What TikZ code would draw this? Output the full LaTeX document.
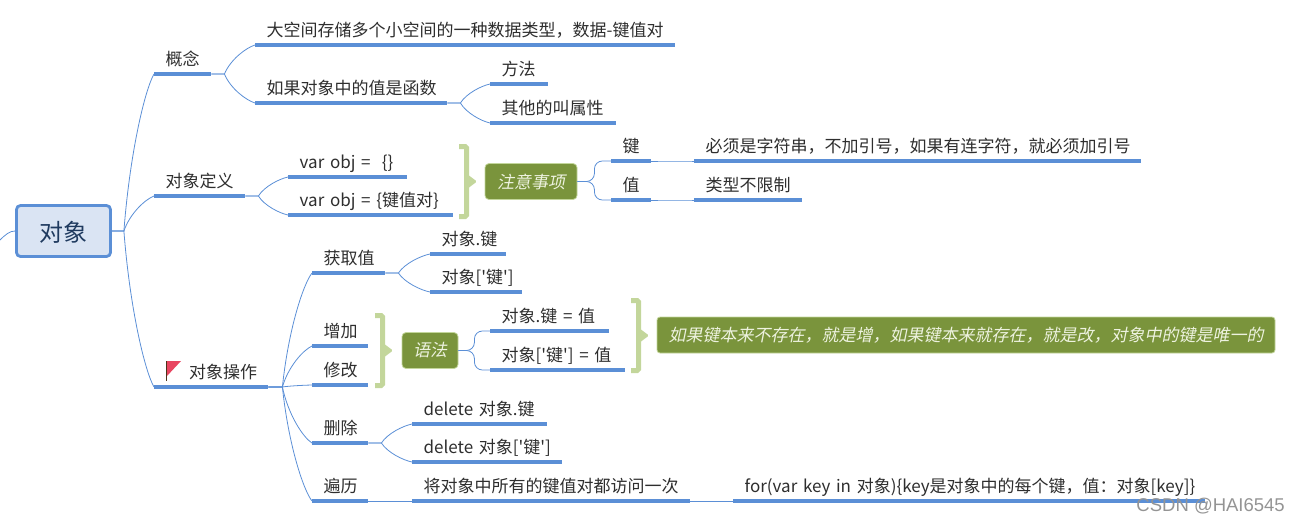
\documentclass[tikz,border=0pt]{standalone}
\usepackage{fontspec}
\usepackage{xcolor}
\newfontfamily\cnfont{Noto Sans CJK SC}
\newfontfamily\cnslant[FakeSlant=0.2]{Noto Sans CJK SC}
\newfontfamily\markfont{Liberation Sans}
\usetikzlibrary{calc}
\definecolor{linkblue}{HTML}{5B8FD6}
\definecolor{rootfill}{HTML}{DAE4F3}
\definecolor{rootink}{HTML}{1F3A5F}
\definecolor{noteolive}{HTML}{7A943C}
\definecolor{noteedge}{HTML}{C3D69B}
\definecolor{noteink}{HTML}{EDF2DF}
\definecolor{flagred}{HTML}{E84560}
\tikzset{
  link/.style      = {linkblue, line width=0.8pt},
  branch/.style    = {to path={-- ++(#1,0) coordinate (h)
                       .. controls ($.5*(h) + .2*(\tikztotarget) + .3*(h |- \tikztotarget)$)
                       and ($.1*(h) + .7*(\tikztotarget) + .2*(h |- \tikztotarget)$) .. (\tikztotarget)}},
  branch/.default  = 13,
  elbow/.style     = {link, rounded corners=8pt},
  topic/.style     = {anchor=south west, inner xsep=11.5pt, inner ysep=4pt,
                      text width={#1pt-23pt}, align=left, text height=14pt, text depth=4pt,
                      text=black!82, font=\cnfont\fontsize{17}{20}\selectfont,
                      append after command={
                        (\tikzlastnode.south west) edge[draw=linkblue, line width=3.6pt]
                        (\tikzlastnode.south east)}},
  rootbox/.style   = {draw=linkblue, line width=2.8pt, fill=rootfill, rounded corners=4pt,
                      minimum width=94pt, minimum height=51pt, text=rootink,
                      text height=25pt, text depth=4pt, inner ysep=0pt,
                      font=\cnfont\fontsize{24}{28}\selectfont},
  notebox/.style   = {draw=noteedge, line width=0.8pt, fill=noteolive, rounded corners=4pt,
                      minimum height=36pt, text=noteink, inner xsep=0pt,
                      font=\cnslant\fontsize{17}{20}\selectfont},
  bracket/.pic     = {
    \draw[noteedge, line width=5pt, rounded corners=1.5pt] (0,2.5) -- (7.5,2.5) -- (7.5,72.5) -- (0,72.5);
    \fill[noteedge, rounded corners=1.5pt] (8,30) -- (18,37.5) -- (8,45) -- cycle;
  },
}
\begin{document}
\begin{tikzpicture}[x=1pt, y=-1pt]
    \useasboundingbox (0,0) rectangle (1300,523);

    % --- ROOT ---
    \node[rootbox] (root) at (63.5,231) {对象};
    \coordinate (rootin) at (0,240);

    % --- CONCEPT BRANCH ---
    \node[topic=57] (concept) at (154,74) {概念};
    \node[topic=420] (conceptA) at (255,45) {\mbox{大空间存储多个小空间的一种数据类型，数据-键值对}};
    \node[topic=192] (conceptB) at (255,103) {如果对象中的值是函数};
    \node[topic=58] (method) at (490,84) {方法};
    \node[topic=126] (attr) at (490,123) {其他的叫属性};

    % --- DEFINITION BRANCH ---
    \node[topic=91] (define) at (154,196) {对象定义};
    \node[topic=119] (defineA) at (288,177) {var obj =\ \ \{\}};
    \node[topic=165] (defineB) at (288,215) {var obj = \{键值对\}};
    \pic at (459,144) {bracket};
    \node[notebox, minimum width=92pt] (notice) at (531,181.5) {注意事项};
    \node[topic=40] (key) at (611,161) {键};
    \node[topic=40] (val) at (611,200) {值};
    \node[topic=447] (keyrule) at (694,161) {必须是字符串，不加引号，如果有连字符，就必须加引号};
    \node[topic=108] (valrule) at (694,200) {类型不限制};

    % --- OPERATION BRANCH ---
    \node[topic=114] (operate) at (154,387) {\hspace*{23.5pt}对象操作};
    \draw[black!60!brown, line width=1.2pt] (166.5,361) -- (166.5,381);
    \fill[flagred] (167,361) -- (181,361) -- (167,376) -- cycle;

    \node[topic=73] (fetch) at (312,273) {获取值};
    \node[topic=76] (fetchA) at (430,254) {对象.键};
    \node[topic=92] (fetchB) at (430,292) {对象['键']};

    \node[topic=56] (add) at (312,346) {增加};
    \node[topic=56] (edit) at (312,385) {修改};
    \pic at (375,313) {bracket};
    \node[notebox, minimum width=56pt] (syntax) at (430,350.5) {语法};
    \node[topic=119] (syntaxA) at (490,331) {对象.键 = 值};
    \node[topic=135] (syntaxB) at (490,370) {对象['键'] = 值};
    \pic at (631,298) {bracket};
    \node[notebox, minimum width=618pt, rounded corners=3pt] (rule) at (966,335)
        {如果键本来不存在，就是增，如果键本来就存在，就是改，对象中的键是唯一的};

    \node[topic=56] (remove) at (312,443) {删除};
    \node[topic=135] (removeA) at (412,424) {delete 对象.键};
    \node[topic=150] (removeB) at (412,462) {\mbox{delete 对象['键']}};

    \node[topic=56] (walk) at (312,501) {遍历};
    \node[topic=278] (walkA) at (412,501) {将对象中所有的键值对都访问一次};
    \node[topic=472] (walkB) at (733,501) {for(var key in 对象)\{key是对象中的每个键，值：对象[key]\}};

    % --- CONNECTORS ---
    \draw[link] (rootin) .. controls (6,234) and (10,231) .. (root.west);
    \foreach \b in {concept,define,operate}
        \draw[link] (root.east) to[branch=12] (\b.south west);
    \foreach \a/\b in {concept/conceptA, concept/conceptB, conceptB/method, conceptB/attr,
                       define/defineA, define/defineB, key/keyrule, val/valrule,
                       fetch/fetchA, fetch/fetchB, remove/removeA, remove/removeB,
                       walk/walkA, walkA/walkB}
        \draw[link] (\a.south east) to[branch] (\b.south west);
    \foreach \b in {fetch,add,edit,remove,walk}
        \draw[link] (operate.south east) to[branch=14] (\b.south west);
    \foreach \b in {key,val}
        \draw[elbow] (notice.east) -- ++(17,0) |- (\b.south west);
    \foreach \b in {syntaxA,syntaxB}
        \draw[elbow] (syntax.east) -- ++(16,0) |- (\b.south west);

    % Watermark
    \node[anchor=east, inner sep=0pt, text=black!42, font=\markfont\fontsize{18.5}{20}\selectfont] (mark) at (1285,506) {CSDN @HAI6545};

\end{tikzpicture}
\end{document}
